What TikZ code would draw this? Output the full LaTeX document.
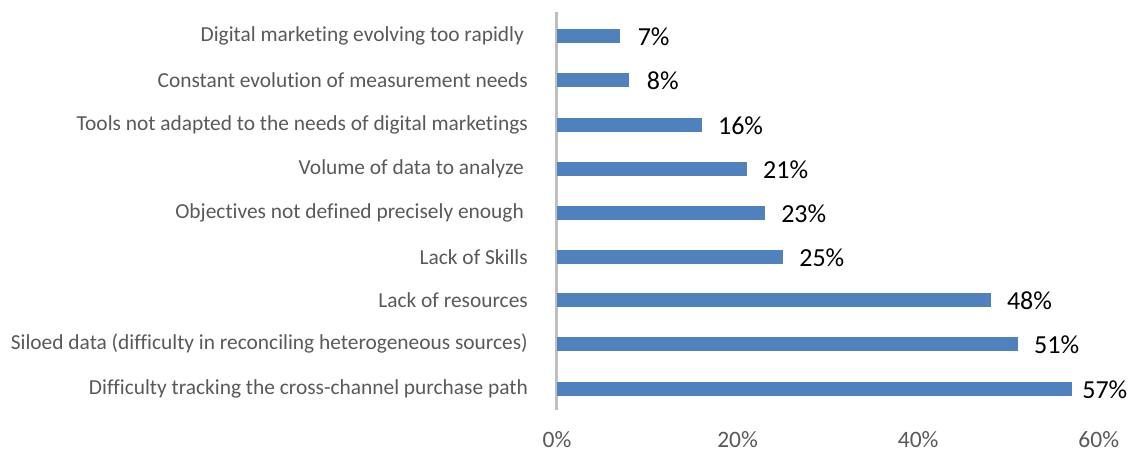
\documentclass[tikz,border=0pt]{standalone}
\usepackage{fontspec}
\setmainfont{Carlito}[Ligatures={NoCommon}]
\definecolor{barblue}{HTML}{4F81BD}
\definecolor{txtgray}{HTML}{595959}
\definecolor{axgray}{HTML}{BFBFBF}
\tikzset{
  bar/.style={fill=barblue, draw=none},
  catlabel/.style={anchor=east, text=txtgray, font=\fontsize{21.4}{25}\selectfont, inner sep=0pt},
  vallabel/.style={anchor=west, text=black, font=\fontsize{26}{30}\selectfont, inner sep=0pt},
  ticklabel/.style={anchor=base, text=txtgray, font=\fontsize{23.5}{27}\selectfont, inner sep=0pt},
  axisline/.style={draw=axgray, line width=3pt}
}
\begin{document}
\begin{tikzpicture}[x=1pt,y=-1pt]
\useasboundingbox (0,0) rectangle (1128,451);
% axis
\coordinate (axtop) at (556,12);
\coordinate (axbot) at (556,410);
\draw[axisline] (axtop) -- (axbot);
% bars: value, y-center, label, label right edge, value gap
\foreach \v/\y/\t/\e/\g [count=\i] in {
  7/36/{Digital marketing evolving too rapidly}/524/17,
  8/80/{Constant evolution of measurement needs}/528/17,
  16/125/{Tools not adapted to the needs of digital marketings}/528/16,
  21/169/{Volume of data to analyze}/524/16,
  23/213/{Objectives not defined precisely enough}/524/16,
  25/257/{Lack of Skills}/528/16,
  48/300/{Lack of resources}/528/16,
  51/344/{Siloed data (difficulty in reconciling heterogeneous sources)}/528/16,
  57/389/{Difficulty tracking the cross-channel purchase path}/528/10}{
  \node[bar, minimum width={9.03*\v pt}, minimum height=14pt, inner sep=0pt, anchor=west] (b\i) at (557,\y) {};
  \node[catlabel] (c\i) at (\e,\y) {\t};
  \node[vallabel] (v\i) at ([xshift=\g pt, yshift=-1pt]b\i.east) {\v\%};
}
% tick labels
\foreach \p [count=\j] in {0,20,40,60}{
  \node[ticklabel] (t\j) at (557+9.03*\p,447) {\p\%};
}
\end{tikzpicture}
\end{document}
